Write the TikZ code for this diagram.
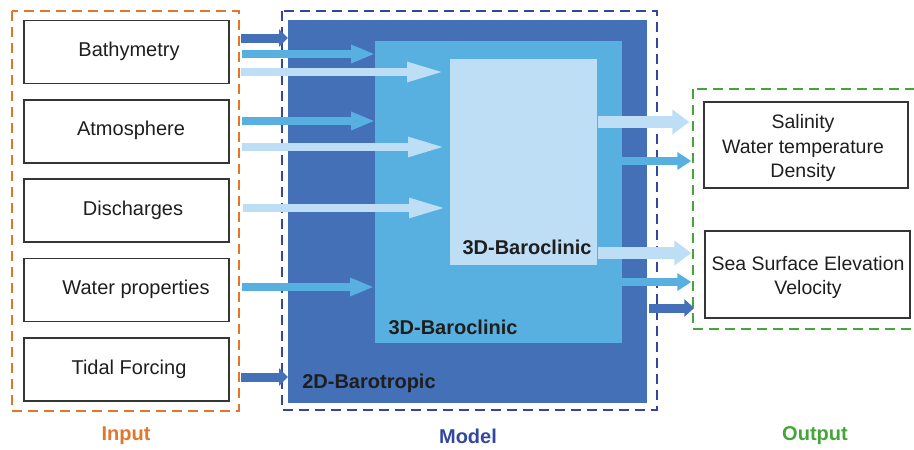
\documentclass[tikz,border=0pt]{standalone}
\usepackage{fontspec}
\setmainfont{Liberation Sans}
\usetikzlibrary{arrows.meta}
\definecolor{dkb}{HTML}{4470B8}
\definecolor{mdb}{HTML}{58B0E0}
\definecolor{ltb}{HTML}{BDDEF5}
\definecolor{modelc}{HTML}{33489C}
\definecolor{inc}{HTML}{E2762A}
\definecolor{outc}{HTML}{45A53A}
\definecolor{txt}{HTML}{1E1E1E}
\begin{document}
\begin{tikzpicture}[x=1pt,y=-1pt,
  inbox/.style={draw=txt!90,line width=1.4pt,minimum width=205pt,minimum height=63pt,inner sep=0pt},
  outbox/.style={draw=txt!90,line width=1.4pt,minimum width=205pt,minimum height=86pt,inner sep=0pt},
  intext/.style={font=\fontsize{20}{24}\selectfont,text=txt,inner sep=0pt},
  outtext/.style={font=\fontsize{19.5}{24.5}\selectfont,text=txt,align=center,inner sep=0pt},
  boldlbl/.style={font=\fontsize{20}{24}\selectfont\bfseries,inner sep=0pt},
  dashbox/.style={line width=2.6pt,dash pattern=on 10pt off 6pt},
  blk/.style={inner sep=0pt,outer sep=0pt},
  inL/.style={ltb,line width=8pt,-{Triangle[length=38pt,width=18pt]}},
  inM/.style={mdb,line width=8pt,-{Triangle[length=24pt,width=17pt]}},
  inD/.style={dkb,line width=9pt,-{Triangle[length=9pt,width=17pt]}},
  outL/.style={ltb,line width=12pt,-{Triangle[length=17pt,width=24pt]}},
  outM/.style={mdb,line width=8pt,-{Triangle[length=14pt,width=17pt]}},
  outD/.style={dkb,line width=9pt,-{Triangle[length=10pt,width=17pt]}}]
\useasboundingbox (0,0) rectangle (914,450);

% dashed group frames
\draw[dashbox,inc] (12,11) rectangle (239,411);
\draw[dashbox,modelc] (282,11) rectangle (657,410);
\draw[dashbox,outc] (693,89) rectangle (916,329);

% model blocks
\node[blk,fill=dkb,minimum width=359pt,minimum height=383pt] (baro2d) at (467.5,211.5) {};
\node[blk,fill=mdb,minimum width=247pt,minimum height=302pt] (baro3a) at (498.5,192) {};
\node[blk,fill=ltb,minimum width=147pt,minimum height=206pt] (baro3b) at (523.5,162) {};
\node[boldlbl,text=txt] (l2d) at (369,383) {2D-Barotropic};
\node[boldlbl,text=txt] (l3a) at (453,327) {3D-Baroclinic};
\node[boldlbl,text=txt] (l3b) at (527,247.5) {3D-Baroclinic};

% input boxes
\node[inbox] (bathy) at (126.5,52) {};
\node[inbox] (atmo) at (126.5,131.5) {};
\node[inbox] (disc) at (126.5,210.5) {};
\node[inbox] (water) at (126.5,290) {};
\node[inbox] (tide) at (126.5,369.5) {};
\node[intext] (tbathy) at (129,51.5) {Bathymetry};
\node[intext] (tatmo) at (131,130.5) {Atmosphere};
\node[intext] (tdisc) at (133,210.5) {Discharges};
\node[intext] (twater) at (136,289.5) {Water properties};
\node[intext] (ttide) at (129,369.5) {Tidal Forcing};

% output boxes
\node[outbox,minimum width=204pt] (out1) at (806,145) {};
\node[outbox,minimum height=87pt] (out2) at (807.5,274.5) {};
\node[outtext] (tout1) at (803,148) {Salinity\\Water temperature\\Density};
\node[outtext] (tout2) at (808,277.5) {Sea Surface Elevation\\Velocity};

% group labels
\node[boldlbl,text=inc] (lin) at (126,436) {Input};
\node[boldlbl,text=modelc] (lmod) at (468,436) {Model};
\node[boldlbl,text=outc] (lout) at (815,436) {Output};

% input arrows
\coordinate (a1) at (241,38);
\coordinate (a2) at (242,54);
\coordinate (a3) at (241,72);
\coordinate (a4) at (242,121);
\coordinate (a5) at (242,147);
\coordinate (a6) at (243,208);
\coordinate (a7) at (242,287);
\coordinate (a8) at (241,377);
\draw[inD] (a1) -- (a1 -| baro2d.west);
\draw[inM] (a2) -- (a2 -| baro3a.west);
\draw[inL] (a3) -- ([xshift=-5pt]a3 -| baro3b.west);
\draw[inM] (a4) -- (a4 -| baro3a.west);
\draw[inL] (a5) -- ([xshift=-4pt]a5 -| baro3b.west);
\draw[inL] (a6) -- ([xshift=-3pt]a6 -| baro3b.west);
\draw[inM] (a7) -- ([xshift=-1pt]a7 -| baro3a.west);
\draw[inD] (a8) -- (a8 -| baro2d.west);

% output arrows
\coordinate (b1) at (598,122);
\coordinate (b2) at (622,161);
\coordinate (b3) at (598,253);
\coordinate (b4) at (622,282);
\coordinate (b5) at (649,308);
\draw[outL] (b1) -- ([xshift=-14pt]b1 -| out1.west);
\draw[outM] (b2) -- ([xshift=-12pt]b2 -| out1.west);
\draw[outL] (b3) -- ([xshift=-13pt]b3 -| out2.west);
\draw[outM] (b4) -- ([xshift=-13pt]b4 -| out2.west);
\draw[outD] (b5) -- ([xshift=-10pt]b5 -| out2.west);
\end{tikzpicture}
\end{document}
